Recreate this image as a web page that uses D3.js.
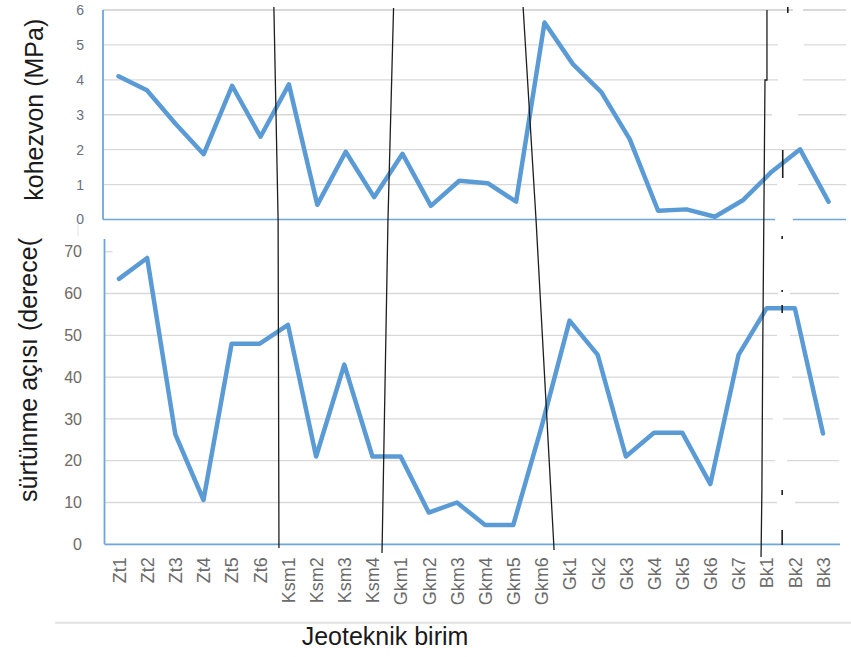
<!DOCTYPE html>
<html>
<head>
<meta charset="utf-8">
<script src="https://cdn.jsdelivr.net/npm/d3@7"></script>
<style>
  html, body { margin: 0; padding: 0; background: #fff; }
  svg { display: block; font-family: "Liberation Sans", Arial, sans-serif; }
</style>
</head>
<body>
<svg id="chart" width="851" height="657"></svg>
<script>
// ---- data ----
const categories = ["Zt1","Zt2","Zt3","Zt4","Zt5","Zt6",
  "Ksm1","Ksm2","Ksm3","Ksm4",
  "Gkm1","Gkm2","Gkm3","Gkm4","Gkm5","Gkm6",
  "Gk1","Gk2","Gk3","Gk4","Gk5","Gk6","Gk7",
  "Bk1","Bk2","Bk3"];
const cohesion = [4.1, 3.7, 2.75, 1.87, 3.83, 2.37,
  3.87, 0.42, 1.94, 0.64,
  1.88, 0.39, 1.11, 1.04, 0.51, 5.64,
  4.45, 3.65, 2.3, 0.25, 0.29, 0.08, 0.56,
  1.37, 2.01, 0.51];
const friction = [63.5, 68.5, 26.3, 10.6, 48, 48,
  52.5, 21, 43, 21,
  21, 7.6, 10, 4.6, 4.6, 28,
  53.5, 45.3, 21, 26.7, 26.7, 14.4, 45.3,
  56.5, 56.5, 26.5];
const cohesionTicks = [0, 1, 2, 3, 4, 5, 6];
const frictionTicks = [0, 10, 20, 30, 40, 50, 60, 70];
const cohesionTitle = "kohezvon (MPa)";
const frictionTitle = "sürtünme açısı (derece(";
const xTitle = "Jeoteknik birim";
// hand-drawn group separators: points as [category index position, y pixel]
const separators = [
  [[5.50, 7], [5.65, 220], [5.68, 548]],
  [[9.75, 8], [9.55, 222], [9.34, 553]],
  [[14.35, 7], [14.81, 220], [15.45, 550]],
  [[23.01, 10], [23.01, 80], [22.94, 80], [22.90, 215], [22.86, 350], [22.83, 490], [22.80, 557]]
];
const dashBits = [
  [[23.75, 7], [23.75, 13]],
  [[23.57, 150], [23.57, 178]],
  [[23.55, 236], [23.55, 239]],
  [[23.55, 290], [23.55, 292]],
  [[23.55, 305], [23.55, 313]],
  [[23.55, 490], [23.55, 495]],
  [[23.55, 530], [23.55, 545]]
];
// small gaps (pixel x ranges) in gridlines near the Bk boundary
const topGaps = {6: [793, 803], 5: [778, 804], 4: [778, 803], 3: [772, 798], 1: [777, 798], 0: [775, 793]};
const botGaps = {60: [778, 790], 50: [777, 790], 40: [779, 792], 30: [773, 783], 20: [775, 787], 10: [777, 795]};

// ---- layout ----
const svg = d3.select("#chart");
const blue = "#5b9bd5";
const axisBlue = "#6fa6da";
const grid = "#d9d9d9";

const T = {left: 103, right: 846, top: 10, bottom: 219.5};
const B = {left: 104.5, right: 839, top: 239, bottom: 544.3};

const xTop = d3.scalePoint().domain(categories).range([118.5, 828.5]);
const xBot = d3.scalePoint().domain(categories).range([119, 823]);
const yTop = d3.scaleLinear().domain([0, 6]).range([T.bottom, T.top]);
const yBot = d3.scaleLinear().domain([0, 70]).range([B.bottom, 251.7]);
const xIdx = d3.scaleLinear().domain([0, 25]).range([119, 823]);

function drawGrid(g, ticks, y, L, R, gaps, skip) {
  ticks.forEach(t => {
    if (skip && skip(t)) return;
    const yy = y(t);
    const gap = gaps[t];
    const segs = gap ? [[L, gap[0]], [gap[1], R]] : [[L, R]];
    segs.forEach(s => g.append("line")
      .attr("x1", s[0]).attr("x2", s[1]).attr("y1", yy).attr("y2", yy)
      .attr("stroke", grid).attr("stroke-width", t === 6 ? 1.8 : 1.3));
  });
}

// ---- top chart ----
const gT = svg.append("g");
drawGrid(gT, cohesionTicks, yTop, T.left, T.right, topGaps, t => t === 0);
// x baseline (with gap)
[[T.left, topGaps[0][0]], [topGaps[0][1], T.right]].forEach(s =>
  gT.append("line").attr("x1", s[0]).attr("x2", s[1])
    .attr("y1", yTop(0)).attr("y2", yTop(0))
    .attr("stroke", axisBlue).attr("stroke-width", 1.5));
gT.append("line").attr("x1", T.left).attr("x2", T.left)
  .attr("y1", T.top).attr("y2", T.bottom)
  .attr("stroke", axisBlue).attr("stroke-width", 1.8);

const yAxT = gT.append("g").attr("transform", `translate(${T.left},0)`)
  .call(d3.axisLeft(yTop).tickValues(cohesionTicks).tickSize(0).tickPadding(19).tickFormat(d3.format("d")));
yAxT.select(".domain").remove();
yAxT.selectAll("text").attr("font-size", 14).attr("fill", "#6a6f80")
  .attr("font-family", "Liberation Sans, Arial, sans-serif");

gT.append("path").datum(cohesion)
  .attr("fill", "none").attr("stroke", blue).attr("stroke-width", 4.5)
  .attr("stroke-linejoin", "round").attr("stroke-linecap", "round")
  .attr("d", d3.line().x((d, i) => xTop(categories[i])).y(d => yTop(d)));

gT.append("text")
  .attr("transform", `translate(43,${(T.top + T.bottom) / 2 - 5}) rotate(-90)`)
  .attr("text-anchor", "middle").attr("font-size", 25).attr("fill", "#1a1a1a")
  .text(cohesionTitle);

// ---- bottom chart ----
const gB = svg.append("g");
drawGrid(gB, frictionTicks, yBot, B.left, B.right, botGaps, t => t === 0 || t === 70);
gB.append("line").attr("x1", B.left).attr("x2", B.left + 8)
  .attr("y1", yBot(70)).attr("y2", yBot(70)).attr("stroke", grid).attr("stroke-width", 1.3);
gB.append("line").attr("x1", B.left).attr("x2", B.right + 1)
  .attr("y1", yBot(0)).attr("y2", yBot(0))
  .attr("stroke", axisBlue).attr("stroke-width", 1.8);
gB.append("line").attr("x1", B.left).attr("x2", B.left)
  .attr("y1", B.top).attr("y2", B.bottom)
  .attr("stroke", axisBlue).attr("stroke-width", 1.8);
gB.append("line").attr("x1", 78).attr("x2", 78).attr("y1", 224).attr("y2", 236)
  .attr("stroke", "#e3e3e3").attr("stroke-width", 1);

const yAxB = gB.append("g").attr("transform", `translate(${B.left},0)`)
  .call(d3.axisLeft(yBot).tickValues(frictionTicks).tickSize(0).tickPadding(22.5).tickFormat(d3.format("d")));
yAxB.select(".domain").remove();
yAxB.selectAll("text").attr("font-size", 16).attr("fill", "#6e6a66")
  .attr("font-family", "Liberation Sans, Arial, sans-serif");

const xAx = gB.append("g").attr("transform", `translate(0,${B.bottom})`)
  .call(d3.axisBottom(xBot).tickSize(0));
xAx.select(".domain").remove();
xAx.selectAll("text")
  .attr("transform", "rotate(-90)")
  .attr("text-anchor", "end")
  .attr("x", -13).attr("y", 0).attr("dy", "0.35em")
  .attr("font-size", 18).attr("fill", "#6b6b6b")
  .attr("font-family", "Liberation Sans, Arial, sans-serif");

gB.append("path").datum(friction)
  .attr("fill", "none").attr("stroke", blue).attr("stroke-width", 4.5)
  .attr("stroke-linejoin", "round").attr("stroke-linecap", "round")
  .attr("d", d3.line().x((d, i) => xBot(categories[i])).y(d => yBot(d)));

gB.append("text")
  .attr("transform", `translate(37,370) rotate(-90)`)
  .attr("text-anchor", "middle").attr("font-size", 25).attr("fill", "#1a1a1a")
  .text(frictionTitle);

// ---- separators ----
const sepLine = d3.line().x(p => xIdx(p[0])).y(p => p[1]);
svg.append("g").selectAll("path").data(separators).join("path")
  .attr("d", sepLine).attr("fill", "none")
  .attr("stroke", "#1e1e1e").attr("stroke-width", 1.3);
svg.append("g").selectAll("path").data(dashBits).join("path")
  .attr("d", sepLine).attr("fill", "none")
  .attr("stroke", "#1e1e1e").attr("stroke-width", 1.6);

// ---- bottom rule and x title ----
svg.append("line").attr("x1", 55).attr("x2", 851).attr("y1", 622.7).attr("y2", 622.7)
  .attr("stroke", "#e2e2e2").attr("stroke-width", 2);
svg.append("text").attr("x", 385).attr("y", 645)
  .attr("text-anchor", "middle").attr("font-size", 25).attr("fill", "#1a1a1a")
  .text(xTitle);
</script>
</body>
</html>
